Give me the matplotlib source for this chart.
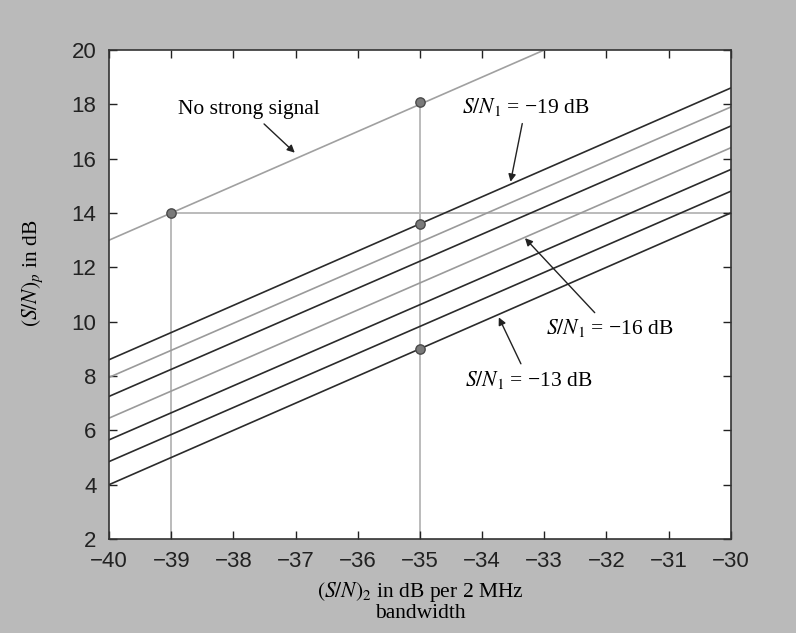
import matplotlib
matplotlib.use('Agg')
import matplotlib.pyplot as plt
import numpy as np

plt.rcParams['mathtext.fontset'] = 'stix'
plt.rcParams['font.family'] = ['Liberation Sans', 'DejaVu Sans']

# x range of the curves
x_ends = np.array([-40, -30])

# (S/N)p at both ends for each S/N1 value (-13 ... -19 dB)
snr1 = [-13, -14, -15, -16, -17, -18, -19]
y_start = [4.0, 4.85, 5.65, 6.45, 7.25, 7.95, 8.6]
y_end = [14.0, 14.8, 15.6, 16.4, 17.2, 17.9, 18.6]
line_cols = ['#2b2b2b', '#2b2b2b', '#2b2b2b', '#9a9a9a', '#2b2b2b', '#9a9a9a', '#2b2b2b']

# no strong signal line
nss_x = [-40, -33]
nss_y = [13.0, 20.0]

# marked points
pt_x = [-39, -35, -35, -35]
pt_y = [14.0, 18.1, 13.6, 9.0]

bg = '#bababa'
fig = plt.figure(figsize=(7.96, 6.33), dpi=100, facecolor=bg)
ax = fig.add_axes([0.137, 0.1485, 0.781, 0.7725])
ax.set_facecolor('white')

# guide lines
guide = '#b5b5b5'
ax.plot([-39, -39], [2, 14], color=guide, lw=1.3, zorder=1)
ax.plot([-35, -35], [2, 18.1], color=guide, lw=1.3, zorder=1)
ax.plot([-39, -30], [14, 14], color=guide, lw=1.3, zorder=1)

ax.plot(nss_x, nss_y, color='#a0a0a0', lw=1.2, zorder=2)
for ys, ye, c in zip(y_start, y_end, line_cols):
    ax.plot(x_ends, [ys, ye], color=c, lw=1.2, zorder=2)

ax.scatter(pt_x, pt_y, s=45, color='#7a7a7a', edgecolor='#4a4a4a', lw=1.0, zorder=4)

ax.set_xlim(-40, -30)
ax.set_ylim(2, 20)
ax.set_xticks(np.arange(-40, -29, 1))
ax.set_yticks(np.arange(2, 21, 2))
ax.set_xticklabels([f'\u2212{abs(v)}' for v in range(-40, -29)])
ax.tick_params(direction='in', length=6, width=1, labelsize=16, top=True, right=True,
               colors='#222222')
ax.tick_params(axis='y', pad=9)
ax.tick_params(axis='x', pad=8.5)
for s in ax.spines.values():
    s.set_color('#333333')
    s.set_linewidth(1.2)

serif = ['Liberation Serif', 'DejaVu Serif']
ax.set_xlabel('$(S/N)_2$ in dB per 2 MHz\nbandwidth', family=serif, fontsize=15.5,
              labelpad=6, linespacing=1.0)
ax.set_ylabel('$(S/N)_p$ in dB', family=serif, fontsize=15.5)
ax.yaxis.set_label_coords(-0.103, 0.544)

arrow = dict(arrowstyle='-|>', color='#222222', lw=1.0, mutation_scale=11)
fs = 15.5
ax.annotate('No strong signal', xy=(-36.98, 16.15), xytext=(-37.75, 17.8),
            family=serif, fontsize=fs, ha='center', va='center', arrowprops=arrow)
ax.annotate('$S/N_1$ = \u221219 dB', xy=(-33.55, 15.05), xytext=(-33.3, 17.9),
            family=serif, fontsize=fs, ha='center', va='center', arrowprops=arrow)
ax.annotate('$S/N_1$ = \u221216 dB', xy=(-33.34, 13.15), xytext=(-31.95, 9.75),
            family=serif, fontsize=fs, ha='center', va='center', arrowprops=arrow)
ax.annotate('$S/N_1$ = \u221213 dB', xy=(-33.75, 10.25), xytext=(-33.25, 7.85),
            family=serif, fontsize=fs, ha='center', va='center', arrowprops=arrow)

fig.savefig('out.png', dpi=100, facecolor=bg)
